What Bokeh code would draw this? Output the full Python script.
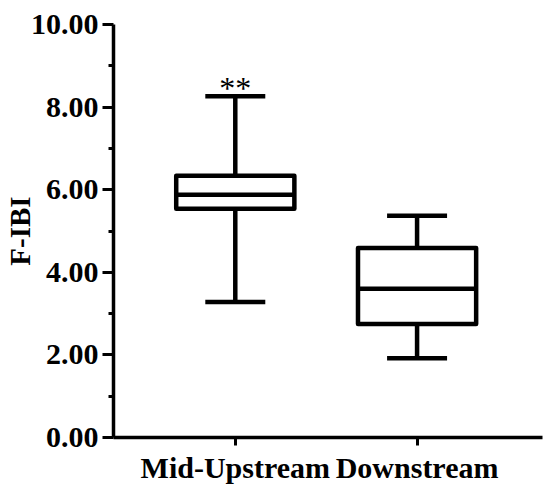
from bokeh.plotting import figure
from bokeh.models import Range1d, ColumnDataSource, PrintfTickFormatter, FixedTicker
from bokeh.core.properties import value
from bokeh.embed import file_html
from bokeh.resources import INLINE

categories = ["Mid-Upstream", "Downstream"]
whisker_low = [3.28, 1.92]
q1 = [5.54, 2.75]
median = [5.88, 3.60]
q3 = [6.34, 4.59]
whisker_high = [8.26, 5.37]
significance = ["**", ""]
y_ticks = [0, 2, 4, 6, 8, 10]
y_minor = [1, 3, 5, 7, 9]

pos = [i + 1 for i in range(len(categories))]

FONT = "Liberation Serif"
BOX_W = 0.65
CAP_W = 0.33
LW = 4.5

src = ColumnDataSource(dict(x=pos, lo=whisker_low, q1=q1, med=median, q3=q3, hi=whisker_high,
                            sig=significance,
                            bl=[v - BOX_W / 2 for v in pos], br=[v + BOX_W / 2 for v in pos],
                            cl=[v - CAP_W / 2 for v in pos], cr=[v + CAP_W / 2 for v in pos]))

p = figure(x_range=Range1d(pos[0] - 0.67, pos[-1] + 0.69),
           y_range=Range1d(0, 10),
           width=550, height=492,
           min_border_left=113, min_border_top=24, min_border_right=8, min_border_bottom=55,
           output_backend="svg", toolbar_location=None)
p.outline_line_color = None
p.grid.visible = False
p.background_fill_color = "white"
p.border_fill_color = "white"

# whiskers
p.segment(x0="x", x1="x", y0="q3", y1="hi", source=src, line_color="black", line_width=LW)
p.segment(x0="x", x1="x", y0="lo", y1="q1", source=src, line_color="black", line_width=LW)
# caps
for col in ("hi", "lo"):
    p.segment(x0="cl", x1="cr", y0=col, y1=col, source=src, line_color="black", line_width=LW)
# boxes
p.quad(left="bl", right="br", bottom="q1", top="q3", source=src, fill_color="white",
       line_color="black", line_width=LW, line_join="round")
# medians
p.segment(x0="bl", x1="br", y0="med", y1="med", source=src, line_color="black", line_width=LW)
# significance marks
p.text(x="x", y="hi", text="sig", source=src, text_align="center", text_baseline="alphabetic",
       y_offset=-8, text_font=value(FONT), text_font_size="32px", text_color="black")

# y axis
ya = p.yaxis[0]
ya.ticker = FixedTicker(ticks=y_ticks, minor_ticks=y_minor)
ya.formatter = PrintfTickFormatter(format="%.2f")
ya.axis_label = "F-IBI"
ya.axis_label_text_font = FONT
ya.axis_label_text_font_style = "bold"
ya.axis_label_text_font_size = "29px"
ya.axis_label_standoff = -8
ya.major_label_text_font = FONT
ya.major_label_text_font_style = "bold"
ya.major_label_text_font_size = "30px"
ya.major_label_standoff = 4
ya.major_tick_out = 11
ya.major_tick_in = 0
ya.minor_tick_out = 5
ya.minor_tick_in = 0

# x axis
xa = p.xaxis[0]
xa.ticker = FixedTicker(ticks=pos, minor_ticks=[])
xa.major_label_overrides = {v: c for v, c in zip(pos, categories)}
xa.major_label_text_font = FONT
xa.major_label_text_font_style = "bold"
xa.major_label_text_font_size = "30px"
xa.major_label_standoff = 5
xa.major_tick_out = 8
xa.major_tick_in = 0

for ax in (xa, ya):
    ax.axis_line_width = 3.5
    ax.axis_line_color = "black"
    ax.major_tick_line_width = 3
    ax.major_tick_line_color = "black"
    ax.minor_tick_line_width = 3
    ax.minor_tick_line_color = "black" if ax is ya else None
    ax.major_label_text_color = "black"
    ax.axis_label_text_color = "black"

open("out.html", "w").write(file_html(p, INLINE))
